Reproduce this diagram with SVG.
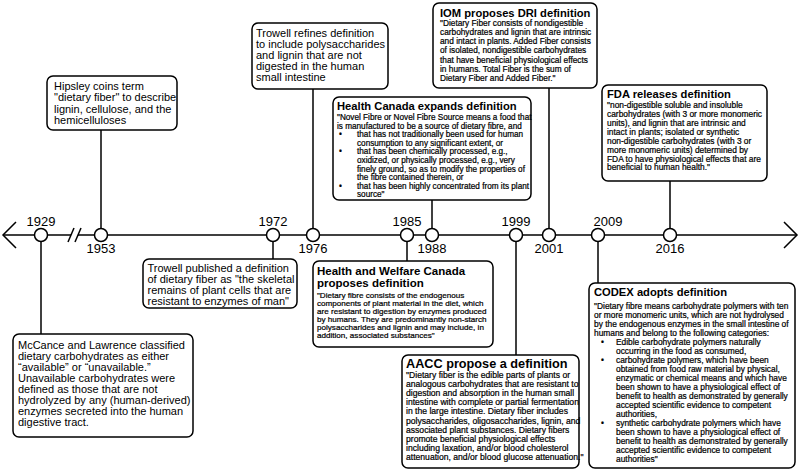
<svg xmlns="http://www.w3.org/2000/svg" width="800" height="474" viewBox="0 0 800 474">
<style>
.box{fill:#fff;stroke:#000;stroke-width:1.5}
.ln{stroke:#000;stroke-width:1.5;fill:none}
.dot{fill:#fff;stroke:#000;stroke-width:1.5}
text{font-family:"Liberation Sans",Arial,Helvetica,sans-serif;fill:#000}
.big{font-size:11px}
.yr{font-size:13px;text-anchor:middle}
.ttl{font-weight:bold;font-size:11.2px}
.sm{stroke:#000;stroke-width:0.22}
.s81{font-size:8.1px}
.s82{font-size:8.2px}
.s83{font-size:8.3px}
.s84{font-size:8.4px}
.s86{font-size:8.6px}
</style>
<rect width="800" height="474" fill="#fff"/>
<g id="connectors">
<line class="ln" x1="41" y1="235" x2="41" y2="334"/>
<line class="ln" x1="101" y1="130" x2="101" y2="235"/>
<line class="ln" x1="273" y1="235" x2="273" y2="259"/>
<line class="ln" x1="313" y1="89" x2="313" y2="235"/>
<line class="ln" x1="407" y1="235" x2="407" y2="261"/>
<line class="ln" x1="432" y1="200" x2="432" y2="235"/>
<line class="ln" x1="516" y1="235" x2="516" y2="355"/>
<line class="ln" x1="549" y1="88" x2="549" y2="235"/>
<line class="ln" x1="598" y1="235" x2="598" y2="283"/>
<line class="ln" x1="670" y1="181" x2="670" y2="235"/>
</g>
<g id="axis">
<line class="ln" x1="3" y1="235" x2="71" y2="235"/>
<line class="ln" x1="78" y1="235" x2="797" y2="235"/>
<line class="ln" x1="68" y1="242" x2="74" y2="228"/>
<line class="ln" x1="75" y1="242" x2="81" y2="228"/>
<polyline class="ln" points="16,222 3,235 16,248"/>
<polyline class="ln" points="784,222 797,235 784,248"/>
</g>
<g id="years">
<circle class="dot" cx="41" cy="235" r="6.5"/><text class="yr" x="41" y="226">1929</text>
<circle class="dot" cx="101" cy="235" r="6.5"/><text class="yr" x="101" y="253">1953</text>
<circle class="dot" cx="273" cy="235" r="6.5"/><text class="yr" x="273" y="226">1972</text>
<circle class="dot" cx="313" cy="235" r="6.5"/><text class="yr" x="313" y="253">1976</text>
<circle class="dot" cx="407" cy="235" r="6.5"/><text class="yr" x="407" y="226">1985</text>
<circle class="dot" cx="432" cy="235" r="6.5"/><text class="yr" x="432" y="253">1988</text>
<circle class="dot" cx="516" cy="235" r="6.5"/><text class="yr" x="516" y="226">1999</text>
<circle class="dot" cx="549" cy="235" r="6.5"/><text class="yr" x="549" y="253">2001</text>
<circle class="dot" cx="598" cy="235" r="6.5"/><text class="yr" x="608" y="226">2009</text>
<circle class="dot" cx="670" cy="235" r="6.5"/><text class="yr" x="670" y="253">2016</text>
</g>
<g id="n1953">
<rect class="box" x="47" y="76" width="130" height="54" rx="6"/>
<text class="big"><tspan x="54" y="89.5">Hipsley coins term</tspan><tspan x="54" y="101">"dietary fiber" to describe</tspan><tspan x="54" y="112.5">lignin, cellulose, and the</tspan><tspan x="54" y="124">hemicelluloses</tspan></text>
</g>
<g id="n1976">
<rect class="box" x="252" y="23" width="136" height="66" rx="6"/>
<text class="big"><tspan x="256" y="37">Trowell refines definition</tspan><tspan x="256" y="48">to include polysaccharides</tspan><tspan x="256" y="58.5">and lignin that are not</tspan><tspan x="256" y="69.5">digested in the human</tspan><tspan x="256" y="80.5">small intestine</tspan></text>
</g>
<g id="n1972">
<rect class="box" x="143" y="259" width="154" height="49" rx="6"/>
<text class="big"><tspan x="147.5" y="271.5">Trowell published a definition</tspan><tspan x="147.5" y="282.5">of dietary fiber as "the skeletal</tspan><tspan x="147.5" y="293.5">remains of plant cells that are</tspan><tspan x="147.5" y="304.5">resistant to enzymes of man"</tspan></text>
</g>
<g id="n1929">
<rect class="box" x="13" y="334" width="180" height="103" rx="6"/>
<text class="big"><tspan x="18" y="349">McCance and Lawrence classified</tspan><tspan x="18" y="360">dietary carbohydrates as either</tspan><tspan x="18" y="371">“available” or “unavailable.”</tspan><tspan x="18" y="382">Unavailable carbohydrates were</tspan><tspan x="18" y="393">defined as those that are not</tspan><tspan x="18" y="404">hydrolyzed by any (human-derived)</tspan><tspan x="18" y="415">enzymes secreted into the human</tspan><tspan x="18" y="426">digestive tract.</tspan></text>
</g>
<g id="n1988">
<rect class="box" x="333" y="97" width="198" height="103" rx="6"/>
<text class="ttl" x="337" y="110">Health Canada expands definition</text>
<text class="s82 sm"><tspan x="337" y="120">"Novel Fibre or Novel Fibre Source means a food that</tspan><tspan x="337" y="128.6">is manufactured to be a source of dietary fibre, and</tspan><tspan x="339" y="137.2">•</tspan><tspan x="357" y="137.2">that has not traditionally been used for human</tspan><tspan x="357" y="145.8">consumption to any significant extent, or</tspan><tspan x="339" y="154.4">•</tspan><tspan x="357" y="154.4">that has been chemically processed, e.g.,</tspan><tspan x="357" y="163">oxidized, or physically processed, e.g., very</tspan><tspan x="357" y="171.6">finely ground, so as to modify the properties of</tspan><tspan x="357" y="180.2">the fibre contained therein, or</tspan><tspan x="339" y="188.8">•</tspan><tspan x="357" y="188.8">that has been highly concentrated from its plant</tspan><tspan x="357" y="197.4">source"</tspan></text>
</g>
<g id="n2001">
<rect class="box" x="433" y="3" width="164" height="85" rx="6"/>
<text class="ttl" x="440" y="17">IOM proposes DRI definition</text>
<text class="s83 sm"><tspan x="440" y="25.5">"Dietary Fiber consists of nondigestible</tspan><tspan x="440" y="34.8">carbohydrates and lignin that are intrinsic</tspan><tspan x="440" y="44.1">and intact in plants. Added Fiber consists</tspan><tspan x="440" y="53.4">of isolated, nondigestible carbohydrates</tspan><tspan x="440" y="62.7">that have beneficial physiological effects</tspan><tspan x="440" y="72">in humans. Total Fiber is the sum of</tspan><tspan x="440" y="81.3">Dietary Fiber and Added Fiber."</tspan></text>
</g>
<g id="n2016">
<rect class="box" x="602" y="85" width="165" height="96" rx="6"/>
<text class="ttl" x="607" y="98">FDA releases definition</text>
<text class="s84 sm"><tspan x="607" y="108">"non-digestible soluble and insoluble</tspan><tspan x="607" y="117">carbohydrates (with 3 or more monomeric</tspan><tspan x="607" y="126">units), and lignin that are intrinsic and</tspan><tspan x="607" y="135">intact in plants; isolated or synthetic</tspan><tspan x="607" y="144">non-digestible carbohydrates (with 3 or</tspan><tspan x="607" y="152.8">more monomeric units) determined by</tspan><tspan x="607" y="161.6">FDA to have physiological effects that are</tspan><tspan x="607" y="170.4">beneficial to human health."</tspan></text>
</g>
<g id="n1985">
<rect class="box" x="313" y="261" width="180" height="86" rx="6"/>
<text class="ttl" style="font-size:11.5px"><tspan x="317" y="274.5">Health and Welfare Canada</tspan><tspan x="317" y="286.5">proposes definition</tspan></text>
<text class="s81 sm"><tspan x="317" y="298">"Dietary fibre consists of the endogenous</tspan><tspan x="317" y="306">components of plant material in the diet, which</tspan><tspan x="317" y="314">are resistant to digestion by enzymes produced</tspan><tspan x="317" y="322">by humans. They are predominantly non-starch</tspan><tspan x="317" y="330">polysaccharides and lignin and may include, in</tspan><tspan x="317" y="338">addition, associated substances"</tspan></text>
</g>
<g id="n1999">
<rect class="box" x="402" y="355" width="177" height="113" rx="6"/>
<text class="ttl" style="font-size:12.7px" x="406" y="367.5">AACC propose a definition</text>
<text class="s86 sm"><tspan x="406" y="377.5">"Dietary fiber is the edible parts of plants or</tspan><tspan x="406" y="386.7">analogous carbohydrates that are resistant to</tspan><tspan x="406" y="395.9">digestion and absorption in the human small</tspan><tspan x="406" y="405.1">intestine with complete or partial fermentation</tspan><tspan x="406" y="414.3">in the large intestine. Dietary fiber includes</tspan><tspan x="406" y="423.5">polysaccharides, oligosaccharides, lignin, and</tspan><tspan x="406" y="432.7">associated plant substances. Dietary fibers</tspan><tspan x="406" y="441.9">promote beneficial physiological effects</tspan><tspan x="406" y="451.1">including laxation, and/or blood cholesterol</tspan><tspan x="406" y="460.3">attenuation, and/or blood glucose attenuation."</tspan></text>
</g>
<g id="n2009">
<rect class="box" x="589" y="283" width="206" height="185" rx="6"/>
<text class="ttl" x="594" y="296">CODEX adopts definition</text>
<text class="s84 sm"><tspan x="594" y="308.5">"Dietary fibre means carbohydrate polymers with ten</tspan><tspan x="594" y="317.5">or more monomeric units, which are not hydrolysed</tspan><tspan x="594" y="326.5">by the endogenous enzymes in the small intestine of</tspan><tspan x="594" y="335.5">humans and belong to the following categories:</tspan><tspan x="601" y="344.5">•</tspan><tspan x="616" y="344.5">Edible carbohydrate polymers naturally</tspan><tspan x="616" y="353.5">occurring in the food as consumed,</tspan><tspan x="601" y="362.5">•</tspan><tspan x="616" y="362.5">carbohydrate polymers, which have been</tspan><tspan x="616" y="371.5">obtained from food raw material by physical,</tspan><tspan x="616" y="380.5">enzymatic or chemical means and which have</tspan><tspan x="616" y="389.5">been shown to have a physiological effect of</tspan><tspan x="616" y="398.5">benefit to health as demonstrated by generally</tspan><tspan x="616" y="407.5">accepted scientific evidence to competent</tspan><tspan x="616" y="416.5">authorities,</tspan><tspan x="601" y="425.5">•</tspan><tspan x="616" y="425.5">synthetic carbohydrate polymers which have</tspan><tspan x="616" y="434.5">been shown to have a physiological effect of</tspan><tspan x="616" y="443.5">benefit to health as demonstrated by generally</tspan><tspan x="616" y="452.5">accepted scientific evidence to competent</tspan><tspan x="616" y="461.5">authorities"</tspan></text>
</g>
</svg>
